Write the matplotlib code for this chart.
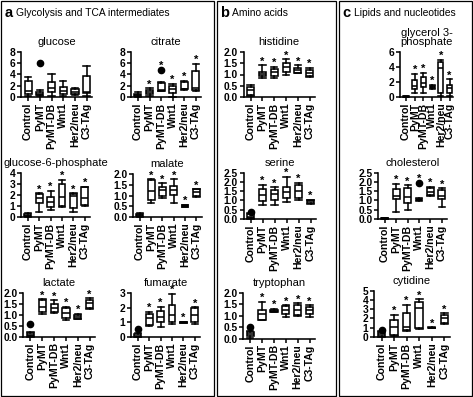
import matplotlib
matplotlib.use("Agg")
import matplotlib.pyplot as plt
from matplotlib.patches import Rectangle

plt.rcParams['font.family'] = ['Liberation Sans', 'DejaVu Sans']

W, H = 473, 397

GROUPS = ['Control', 'PyMT', 'PyMT-DB', 'Wnt1', 'Her2/neu', 'C3-TAg']

# box stats per group: (whisker low, q1, median, q3, whisker high)
glucose = [(0.1, 0.5, 1.0, 2.8, 3.5), (0.1, 0.3, 0.6, 0.9, 1.3), (0.2, 0.8, 1.5, 2.7, 4.1),
           (0.1, 0.5, 1.05, 1.7, 2.9), (0.3, 0.5, 0.95, 1.35, 1.6), (0.2, 0.65, 0.95, 3.65, 5.4)]
glucose_out = [[], [5.9], [], [], [], []]

citrate = [(0.0, 0.1, 0.3, 0.5, 0.9), (0.1, 0.5, 0.95, 1.3, 1.5), (1.0, 1.1, 1.15, 2.5, 2.6),
           (0.0, 0.75, 1.35, 1.9, 2.3), (1.2, 1.35, 1.4, 2.65, 2.85), (1.0, 1.2, 1.5, 4.6, 5.85)]
citrate_out = [[], [], [4.8], [], [], []]

g6p = [(0.0, 0.05, 0.12, 0.25, 0.33), (0.5, 1.3, 1.7, 2.05, 2.15), (0.6, 0.9, 1.4, 1.85, 2.4),
       (0.9, 1.0, 1.85, 3.0, 3.4), (0.5, 0.8, 1.9, 2.05, 2.15), (1.0, 1.1, 1.7, 2.7, 2.75)]
malate = [(0.02, 0.05, 0.1, 0.15, 0.2), (0.67, 0.8, 1.2, 1.7, 1.75), (0.9, 0.98, 1.25, 1.4, 1.57),
          (0.64, 1.02, 1.25, 1.45, 1.75), (0.45, 0.47, 0.5, 0.55, 0.57), (0.95, 1.0, 1.15, 1.28, 1.3)]

lactate = [(0.0, 0.02, 0.1, 0.15, 0.2), (1.05, 1.14, 1.35, 1.65, 1.7), (1.1, 1.14, 1.3, 1.48, 1.65),
           (0.76, 0.83, 1.1, 1.3, 1.35), (0.8, 0.82, 0.88, 1.0, 1.05), (1.25, 1.3, 1.52, 1.65, 1.75)]
lactate_out = [[0.6], [], [], [], [], []]

fumarate = [(0.0, 0.03, 0.1, 0.2, 0.25), (0.75, 0.82, 1.27, 1.6, 1.72), (0.7, 1.04, 1.34, 1.8, 2.07),
            (0.9, 1.05, 1.5, 2.18, 2.93), (0.95, 0.97, 1.0, 1.03, 1.05), (0.9, 1.05, 1.5, 2.0, 2.03)]
fumarate_out = [[0.52], [], [], [], [], []]

histidine = [(0.05, 0.09, 0.3, 0.43, 0.53), (0.83, 0.93, 1.02, 1.12, 1.42), (0.83, 0.93, 1.1, 1.23, 1.35),
             (0.98, 1.12, 1.35, 1.5, 1.68), (1.05, 1.08, 1.18, 1.27, 1.42), (0.9, 0.93, 1.07, 1.22, 1.3)]

serine = [(0.0, 0.03, 0.1, 0.25, 0.35), (0.76, 0.99, 1.3, 1.6, 1.84), (0.76, 1.05, 1.35, 1.55, 1.71),
          (0.9, 1.12, 1.48, 1.75, 2.29), (1.05, 1.12, 1.5, 1.85, 1.96), (0.8, 0.85, 0.95, 1.0, 1.03)]
serine_out = [[0.4], [], [], [], [], []]

tryptophan = [(0.05, 0.1, 0.2, 0.3, 0.35), (0.8, 0.82, 1.1, 1.26, 1.62), (1.15, 1.18, 1.22, 1.25, 1.3),
              (0.96, 1.06, 1.25, 1.43, 1.47), (1.0, 1.03, 1.25, 1.47, 1.55), (0.95, 1.06, 1.25, 1.4, 1.47)]
tryptophan_out = [[0.5], [], [], [], [], []]

glycerol = [(0.0, 0.02, 0.05, 0.08, 0.1), (0.49, 1.02, 1.47, 2.27, 3.07), (0.6, 1.29, 1.91, 2.62, 3.24),
            (1.1, 1.16, 1.3, 1.47, 1.6), (0.13, 0.49, 3.82, 4.7, 4.93), (0.13, 0.58, 1.16, 1.6, 2.36)]

cholesterol = [(0.0, 0.02, 0.04, 0.06, 0.08), (0.4, 1.06, 1.24, 1.6, 1.89), (0.5, 0.88, 1.17, 1.66, 1.83),
               (0.98, 1.0, 1.03, 1.1, 1.12), (1.25, 1.3, 1.45, 1.65, 1.75), (0.67, 1.06, 1.25, 1.55, 1.65)]
cholesterol_out = [[], [], [], [1.96], [], []]

cytidine = [(0.0, 0.1, 0.3, 0.5, 0.6), (0.1, 0.2, 1.1, 1.84, 2.38), (0.6, 0.75, 1.1, 2.56, 3.46),
            (0.85, 0.94, 3.1, 3.81, 4.07), (0.95, 0.98, 1.0, 1.02, 1.05), (1.4, 1.5, 2.0, 2.4, 2.56)]
cytidine_out = [[0.8], [], [], [], [], []]

NONE = [[]] * 6

# y ticks per panel
ticks_8 = [0, 2, 4, 6, 8]
ticks_4 = [0, 1, 2, 3, 4]
ticks_20 = [0.0, 0.5, 1.0, 1.5, 2.0]
ticks_25 = [0.0, 0.5, 1.0, 1.5, 2.0, 2.5]
ticks_3 = [0, 1, 2, 3]
ticks_6 = [0, 2, 4, 6]
ticks_5 = [0, 1, 2, 3, 4, 5]

# title, stats, outliers, yticks, decimals, stars, (left, right, top, bottom) in px, xlim
panels = [
    ('glucose', glucose, glucose_out, ticks_8, 0, False, (21, 92, 51.5, 97), (0.4, 6.45)),
    ('citrate', citrate, citrate_out, ticks_8, 0, True, (131, 201, 51.5, 97), (0.4, 6.45)),
    ('glucose-6-phosphate', g6p, NONE, ticks_4, 0, True, (21, 90, 173, 217), (0.4, 6.45)),
    ('malate', malate, NONE, ticks_20, 1, True, (133, 201.5, 174, 217), (0.4, 6.45)),
    ('lactate', lactate, lactate_out, ticks_20, 1, True, (23.3, 95, 292.7, 336.7), (0.4, 6.45)),
    ('fumarate', fumarate, fumarate_out, ticks_3, 0, True, (131, 200, 293, 337), (0.4, 6.45)),
    ('histidine', histidine, NONE, ticks_20, 1, True, (243.5, 315, 52, 97), (0.4, 6.45)),
    ('serine', serine, serine_out, ticks_25, 1, True, (243.5, 316, 172.7, 219), (0.4, 6.45)),
    ('tryptophan', tryptophan, tryptophan_out, ticks_20, 1, True, (243, 315, 293, 338.7), (0.4, 6.45)),
    ('glycerol 3-\nphosphate', glycerol, NONE, ticks_6, 0, True, (400, 453, 52, 97), (0.3, 6.4)),
    ('cholesterol', cholesterol, cholesterol_out, ticks_25, 1, True, (378, 447, 172.7, 219), (0.4, 6.45)),
    ('cytidine', cytidine, cytidine_out, ticks_5, 0, True, (374, 450, 290.7, 337), (0.4, 6.45)),
]

fig = plt.figure(figsize=(W / 100, H / 100), dpi=100)

# section frames and headers
frames = [(1, 213.5, 'a', 'Glycolysis and TCA intermediates'),
          (216.5, 335.5, 'b', 'Amino acids'),
          (338.5, 472, 'c', 'Lipids and nucleotides')]
for x0, x1, letter, head in frames:
    fig.add_artist(Rectangle((x0 / W, 1 / H), (x1 - x0) / W, (H - 2) / H,
                             transform=fig.transFigure, fill=False, lw=0.9, ec='black'))
    fig.text((x0 + 4) / W, 1 - 13 / H, letter, fontsize=10.5, fontweight='bold', va='center')
    fig.text((x0 + 15) / W, 1 - 13 / H, head, fontsize=7.4, va='center')

pos = list(range(1, 7))
for title, stats, outs, yt, dec, stars, (l, r, t, b), xl in panels:
    ax = fig.add_axes([l / W, 1 - b / H, (r - l) / W, (b - t) / H])
    bx = []
    for (lo, q1, med, q3, hi), fl in zip(stats, outs):
        bx.append(dict(whislo=lo, q1=q1, med=med, q3=q3, whishi=hi, fliers=fl))
    lw = 1.15
    arts = ax.bxp(bx, positions=pos, widths=0.6, capwidths=0.55, patch_artist=True,
                  boxprops=dict(facecolor='white', edgecolor='black', lw=lw),
                  medianprops=dict(color='black', lw=lw),
                  whiskerprops=dict(color='black', lw=lw),
                  capprops=dict(color='black', lw=lw),
                  flierprops=dict(marker='o', markerfacecolor='black', markeredgecolor='black',
                                  markersize=4.5))
    for key in arts:
        for a in arts[key]:
            a.set_clip_on(False)
    if stars:
        for i in range(1, 6):
            top = max([stats[i][4]] + list(outs[i]))
            ax.annotate('*', (pos[i], top), xytext=(0, 0.5), textcoords='offset points',
                        ha='center', va='baseline', fontsize=8, fontweight='bold')
    ax.set_xlim(*xl)
    ax.set_ylim(yt[0], yt[-1])
    ax.set_yticks(yt)
    ax.set_yticklabels([f'{v:.{dec}f}' for v in yt], fontsize=7.4, fontweight='bold')
    ax.set_xticks(pos)
    ax.set_xticklabels(GROUPS, rotation=90, fontsize=7.6, fontweight='bold')
    ax.tick_params(length=3, width=1.1, pad=1)
    for s in ['top', 'right']:
        ax.spines[s].set_visible(False)
    for s in ['left', 'bottom']:
        ax.spines[s].set_linewidth(1.15)
    ax.set_title(title, fontsize=8, pad=5, linespacing=0.85)
    ax.patch.set_alpha(0)

fig.savefig('out.png', dpi=100)
